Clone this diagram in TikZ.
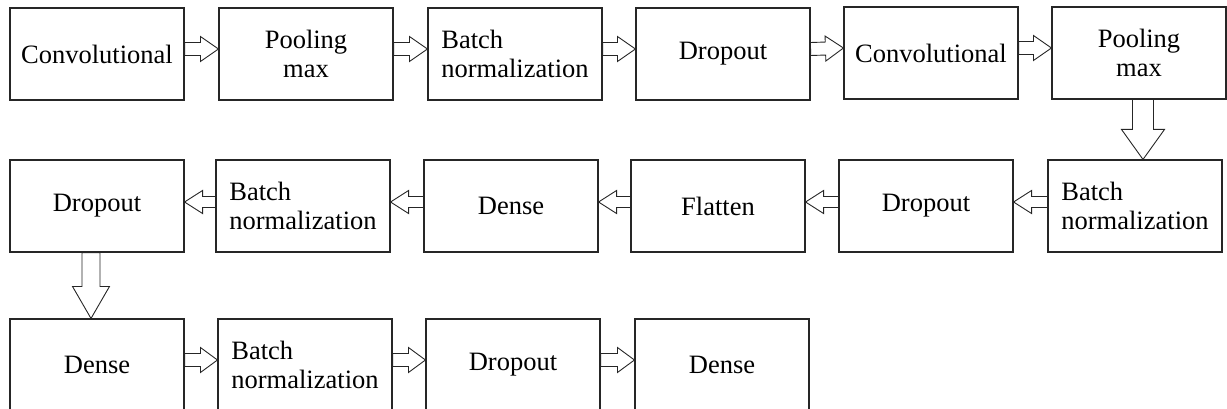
\documentclass[tikz,border=0pt]{standalone}
\usepackage{fontspec}
\setmainfont{Liberation Serif}
\usetikzlibrary{calc}
\tikzset{
  font={\fontsize{26.5pt}{29pt}\selectfont}}
\tikzset{
  block/.style={draw=black!85, line width=1.1pt, minimum width=174pt,
    minimum height=92pt, inner sep=0pt, align=center},
  hollow/.style n args={3}{draw=black!85, line width=0.9pt, to path={
    ($(\tikztostart)!#1!90:(\tikztotarget)$)
    -- ($(\tikztotarget)!#3!(\tikztostart)!#1!-90:(\tikztostart)$)
    -- ($(\tikztotarget)!#3!(\tikztostart)!#2!-90:(\tikztostart)$)
    -- (\tikztotarget)
    -- ($(\tikztotarget)!#3!(\tikztostart)!#2!90:(\tikztostart)$)
    -- ($(\tikztotarget)!#3!(\tikztostart)!#1!90:(\tikztostart)$)
    -- ($(\tikztostart)!#1!-90:(\tikztotarget)$) -- cycle}}
}

\begin{document}
\begin{tikzpicture}[x=1pt,y=-1pt]
\useasboundingbox (0,0) rectangle (1227,409);
% first row
\node[block] (conv1) at (97,54) {Convolutional};
\node[block] (pool1) at (306,54) {Pooling\\max};
\node[block, align=left] (bnorm1) at (515,54) {Batch\\normalization};
\node[block] (drop1) at (723,54) {Dropout};
\node[block] (conv2) at (931,53) {Convolutional};
\node[block] (pool2) at (1139,53) {Pooling\\max};
% second row, right to left
\node[block, align=left] (bnorm2) at (1135,206) {Batch\\normalization};
\node[block] (drop2) at (926,206) {Dropout};
\node[block] (flat) at (718,206) {Flatten};
\node[block] (dense1) at (511,206) {Dense};
\node[block, align=left] (bnorm3) at (303,206) {Batch\\normalization};
\node[block] (drop3) at (97,206) {Dropout};
% third row
\node[block] (dense2) at (97,365) {Dense};
\node[block, align=left] (bnorm4) at (305,365) {Batch\\normalization};
\node[block] (drop4) at (513,365) {Dropout};
\node[block] (dense3) at (722,365) {Dense};

\draw[hollow={6.5pt}{12.5pt}{18pt}] ([yshift=5pt]conv1.east) to ([yshift=5pt]pool1.west);
\draw[hollow={6.5pt}{12.5pt}{18pt}] ([yshift=5pt]pool1.east) to ([yshift=5pt]bnorm1.west);
\draw[hollow={6.5pt}{12.5pt}{18pt}] ([yshift=5pt]bnorm1.east) to ([yshift=5pt]drop1.west);
\draw[hollow={6.5pt}{12.5pt}{18pt}] ([yshift=5pt]drop1.east) to ([yshift=5pt]conv2.west);
\draw[hollow={6.5pt}{12.5pt}{18pt}] ([yshift=5pt]conv2.east) to ([yshift=5pt]pool2.west);
\draw[hollow={10.5pt}{21.5pt}{30pt}] ([xshift=4pt]pool2.south) to ([xshift=8pt]bnorm2.north);
\draw[hollow={5.5pt}{11.5pt}{18pt}] ([yshift=4pt]bnorm2.west) to ([yshift=4pt]drop2.east);
\draw[hollow={5.5pt}{11.5pt}{18pt}] ([yshift=4pt]drop2.west) to ([yshift=4pt]flat.east);
\draw[hollow={5.5pt}{11.5pt}{18pt}] ([yshift=4pt]flat.west) to ([yshift=4pt]dense1.east);
\draw[hollow={5.5pt}{11.5pt}{18pt}] ([yshift=4pt]dense1.west) to ([yshift=4pt]bnorm3.east);
\draw[hollow={5.5pt}{11.5pt}{18pt}] ([yshift=4pt]bnorm3.west) to ([yshift=4pt]drop3.east);
\draw[hollow={9pt}{18.5pt}{32pt}] ([xshift=-6pt]drop3.south) to ([xshift=-6pt]dense2.north);
\draw[hollow={6.5pt}{12.5pt}{17pt}] ([yshift=5pt]dense2.east) to ([yshift=5pt]bnorm4.west);
\draw[hollow={6.5pt}{12.5pt}{17pt}] ([yshift=5pt]bnorm4.east) to ([yshift=5pt]drop4.west);
\draw[hollow={6.5pt}{12.5pt}{17pt}] ([yshift=5pt]drop4.east) to ([yshift=5pt]dense3.west);
\end{tikzpicture}
\end{document}
